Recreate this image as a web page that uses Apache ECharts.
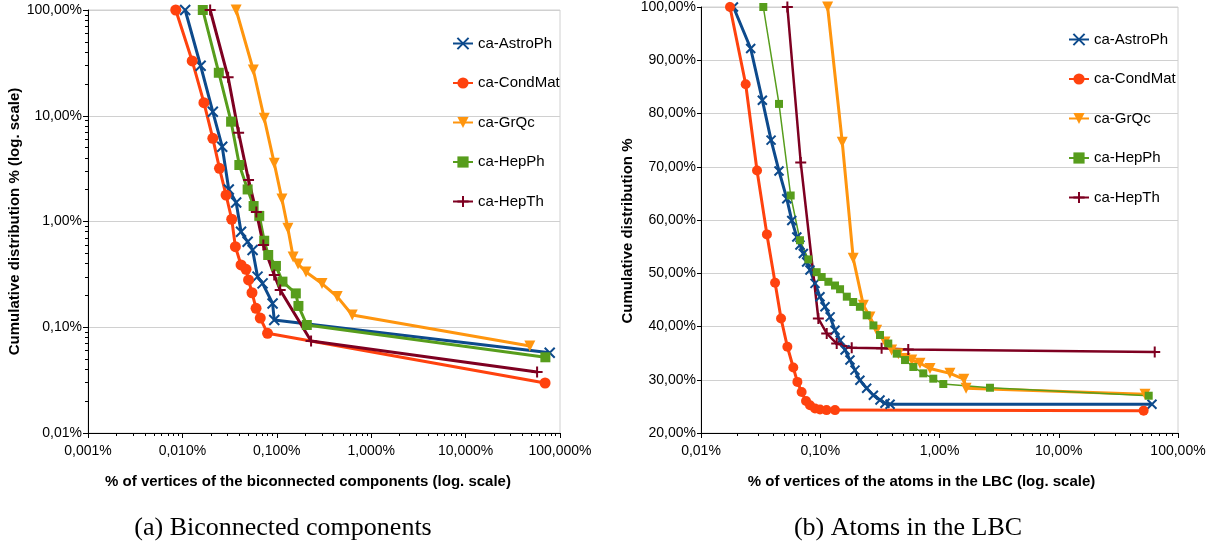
<!DOCTYPE html>
<html>
<head>
<meta charset="utf-8">
<script src="https://cdn.jsdelivr.net/npm/echarts@6/dist/echarts.min.js"></script>
<style>html,body{margin:0;padding:0;background:#fff}#c{width:1215px;height:554px}</style>
</head>
<body>
<div id="c"></div>
<script>
// ---------- names / colours ----------
const seriesNames = ['ca-AstroPh', 'ca-CondMat', 'ca-GrQc', 'ca-HepPh', 'ca-HepTh'];
const seriesColors = ['#0d4a8c', '#ff420e', '#ff950e', '#579d1c', '#7e0021'];

// ---------- (a) Biconnected components: [% of vertices, cumulative %] ----------
const bcAstroPh = [[0.0107,100],[0.0156,29.7],[0.0210,10.9],[0.0264,5.1],[0.0310,2.01],[0.0371,1.51],[0.0418,0.80],[0.0491,0.644],[0.0554,0.537],[0.0625,0.301],[0.0707,0.260],[0.0902,0.168],[0.094,0.117],[77.8,0.0574]];
const bcCondMat = [[0.0085,100],[0.0127,33],[0.0169,13.3],[0.0210,6.12],[0.0247,3.18],[0.0290,1.78],[0.0333,1.05],[0.0364,0.578],[0.0418,0.388],[0.0472,0.353],[0.0502,0.280],[0.0546,0.212],[0.0603,0.151],[0.0668,0.122],[0.0798,0.0877],[69.5,0.0297]];
const bcGrQc = [[0.0371,100],[0.0564,27.1],[0.0736,9.46],[0.094,3.55],[0.1133,1.63],[0.131,0.863],[0.149,0.462],[0.168,0.396],[0.204,0.333],[0.301,0.259],[0.436,0.195],[0.630,0.1305],[47.9,0.0665]];
const bcHepPh = [[0.01644,100],[0.0243,25.5],[0.0328,8.79],[0.0401,3.42],[0.0491,2.01],[0.0568,1.40],[0.0652,1.13],[0.0736,0.658],[0.0811,0.482],[0.0979,0.380],[0.1148,0.270],[0.159,0.209],[0.1695,0.159],[0.208,0.105],[70,0.052]];
const bcHepTh = [[0.01968,100],[0.0305,23.1],[0.0394,6.91],[0.0502,2.47],[0.0607,1.23],[0.0720,0.600],[0.094,0.312],[0.1086,0.225],[0.2307,0.0741],[57.2,0.0378]];

// ---------- (b) Atoms in the LBC: [% of vertices, cumulative %] ----------
const lbcAstroPh = [[0.0187,100],[0.0261,92.2],[0.0327,82.5],[0.0387,75.0],[0.0451,69.2],[0.0524,64.0],[0.0577,59.9],[0.0636,56.8],[0.0676,55.3],[0.0721,53.7],[0.0769,52.1],[0.0820,50.6],[0.0904,48.1],[0.0995,45.6],[0.1096,43.7],[0.121,41.8],[0.133,39.3],[0.1466,37.4],[0.1615,35.6],[0.1775,33.7],[0.1955,31.8],[0.215,29.9],[0.245,28.4],[0.279,27.1],[0.317,26.2],[0.349,25.6],[0.385,25.4],[60.5,25.4]];
const lbcCondMat = [[0.0175,100],[0.0237,85.5],[0.0295,69.3],[0.0357,57.3],[0.0418,48.2],[0.0469,41.5],[0.0530,36.2],[0.0594,32.3],[0.0643,29.6],[0.0698,27.7],[0.0760,26.0],[0.0820,25.2],[0.0904,24.6],[0.0995,24.4],[0.113,24.3],[0.133,24.3],[51.5,24.2]];
const lbcGrQc = [[0.1153,100],[0.153,74.6],[0.189,52.8],[0.230,44.0],[0.261,41.8],[0.297,39.3],[0.349,37.1],[0.397,35.6],[0.452,34.9],[0.514,34.0],[0.585,33.7],[0.686,33.1],[0.832,32.1],[1.224,31.2],[1.60,30.1],[1.67,28.4],[52.9,27.3]];
const lbcHepPh = [[0.0333,100],[0.0451,81.8],[0.0565,64.6],[0.0676,56.2],[0.0795,52.6],[0.0933,50.2],[0.1028,49.3],[0.117,48.4],[0.133,47.7],[0.1466,47.0],[0.167,45.6],[0.189,44.6],[0.215,43.7],[0.245,42.1],[0.279,40.2],[0.317,38.4],[0.372,36.8],[0.438,34.9],[0.514,33.7],[0.603,32.4],[0.731,31.2],[0.887,30.2],[1.076,29.2],[2.65,28.5],[56.8,27.0]];
const lbcHepTh = [[0.0530,100],[0.0686,70.8],[0.0964,41.5],[0.1133,38.7],[0.1374,36.8],[0.1836,36.0],[0.327,35.9],[0.547,35.7],[63.8,35.2]];

// ---------- ticks ----------
const bcXTicks = [0.001, 0.01, 0.1, 1, 10, 100];
const bcYTicks = [0.01, 0.1, 1, 10, 100];
const lbcXTicks = [0.01, 0.1, 1, 10, 100];
const lbcYTicks = [20, 30, 40, 50, 60, 70, 80, 90, 100];

const texts = {
  bcX: '% of vertices of the biconnected components (log. scale)',
  bcY: 'Cumulative distribution % (log. scale)',
  lbcX: '% of vertices of the atoms in the LBC (log. scale)',
  lbcY: 'Cumulative distribution %',
  capA: '(a) Biconnected components',
  capB: '(b) Atoms in the LBC'
};

// ---------- helpers ----------
const FONT = '"Liberation Sans", Arial, sans-serif';
function fmt(v, d) { return Number(v).toFixed(d).replace('.', ',') + '%'; }
function minorsOf(majors) {
  const out = [];
  for (let i = 0; i < majors.length - 1; i++) for (let k = 2; k <= 9; k++) out.push(+(majors[i] * k).toPrecision(6));
  return out;
}
const SYM_X = 'path://M0,0L10,10M0,10L10,0';
const SYM_PLUS = 'path://M5,0L5,10M0,5L10,5';
const symbols = [
  { symbol: SYM_X, rotate: 0, stroke: 2 },
  { symbol: 'circle', rotate: 0, stroke: 0 },
  { symbol: 'triangle', rotate: 180, stroke: 0 },
  { symbol: 'rect', rotate: 0, stroke: 0 },
  { symbol: SYM_PLUS, rotate: 0, stroke: 2 }
];

function mkSeries(data, idx, axisIdx, width, size) {
  const s = symbols[idx];
  return {
    type: 'line', name: seriesNames[idx], data: data,
    xAxisIndex: axisIdx, yAxisIndex: axisIdx,
    symbol: s.symbol, symbolRotate: s.rotate, symbolSize: size,
    showAllSymbol: true, animation: false,
    lineStyle: { color: seriesColors[idx], width: width },
    itemStyle: { color: seriesColors[idx], borderColor: seriesColors[idx], borderWidth: s.stroke }
  };
}

const bcData = [bcAstroPh, bcCondMat, bcGrQc, bcHepPh, bcHepTh];
const lbcData = [lbcAstroPh, lbcCondMat, lbcGrQc, lbcHepPh, lbcHepTh];
const bcWidths = [3, 3, 3, 3, 3];
const bcSizes = [10, 11, 11, 10, 11];
const lbcWidths = [3, 3, 3, 1.5, 2.5];
const lbcSizes = [9, 10, 11, 8, 11];

const series = [];
bcData.forEach((d, i) => series.push(mkSeries(d, i, 0, bcWidths[i], bcSizes[i])));
lbcData.forEach((d, i) => series.push(mkSeries(d, i, 2, lbcWidths[i], lbcSizes[i])));

const axisLabelStyle = { color: '#000', fontSize: 14, fontFamily: FONT };
const nameStyle = { color: '#000', fontSize: 15, fontWeight: 'bold', fontFamily: FONT };

function logAxis(grid, min, max, majors, dec, extra) {
  return Object.assign({
    gridIndex: grid, type: 'log', logBase: 10, min: min, max: max,
    axisLine: { show: true, onZero: false, lineStyle: { color: '#000', width: 1 } },
    axisTick: { show: true, inside: false, length: 5, customValues: majors, lineStyle: { color: '#000' } },
    axisLabel: { show: true, customValues: majors, formatter: v => fmt(v, dec), ...axisLabelStyle },
    minorTick: { show: false }, splitLine: { show: false }
  }, extra);
}
function minorAxis(grid, min, max, majors, position) {
  return {
    gridIndex: grid, type: 'log', logBase: 10, min: min, max: max, position: position,
    axisLine: { show: false },
    axisTick: { show: true, inside: false, length: 3, customValues: minorsOf(majors), lineStyle: { color: '#000' } },
    axisLabel: { show: false }, splitLine: { show: false }, minorTick: { show: false }
  };
}

const legendCommon = {
  orient: 'vertical', itemWidth: 20, itemHeight: 14, itemGap: 24.5,
  textStyle: { color: '#000', fontSize: 15, fontFamily: FONT }, data: seriesNames, selectedMode: false
};

const option = {
  backgroundColor: '#fff',
  animation: false,
  grid: [
    { left: 88, top: 10, width: 472, height: 423, show: true, borderColor: '#d0d0d0', borderWidth: 1, backgroundColor: 'transparent' },
    { left: 701, top: 6, width: 477, height: 427, show: true, borderColor: '#d0d0d0', borderWidth: 1, backgroundColor: 'transparent' }
  ],
  xAxis: [
    logAxis(0, 0.001, 100, bcXTicks, 3, { position: 'bottom', axisLabel: { customValues: bcXTicks, formatter: v => fmt(v, 3), margin: 11, ...axisLabelStyle },
      name: texts.bcX, nameLocation: 'middle', nameGap: 41, nameTextStyle: Object.assign({ padding: [0, 32, 0, 0] }, nameStyle) }),
    minorAxis(0, 0.001, 100, bcXTicks, 'bottom'),
    logAxis(1, 0.01, 100, lbcXTicks, 2, { position: 'bottom', axisLabel: { customValues: lbcXTicks, formatter: v => fmt(v, 2), margin: 11, ...axisLabelStyle },
      name: texts.lbcX, nameLocation: 'middle', nameGap: 41, nameTextStyle: Object.assign({ padding: [0, 36, 0, 0] }, nameStyle) }),
    minorAxis(1, 0.01, 100, lbcXTicks, 'bottom')
  ],
  yAxis: [
    logAxis(0, 0.01, 100, bcYTicks, 2, { position: 'left',
      axisLabel: { customValues: bcYTicks, formatter: v => fmt(v, 2), margin: 6, ...axisLabelStyle },
      splitLine: { show: true, lineStyle: { color: '#d0d0d0', width: 1 } },
      name: texts.bcY, nameLocation: 'middle', nameGap: 66, nameRotate: 90, nameTextStyle: nameStyle }),
    minorAxis(0, 0.01, 100, bcYTicks, 'left'),
    {
      gridIndex: 1, type: 'value', min: 20, max: 100, interval: 10, position: 'left',
      axisLine: { show: true, onZero: false, lineStyle: { color: '#000', width: 1 } },
      axisTick: { show: true, inside: false, length: 4, lineStyle: { color: '#000' } },
      axisLabel: { formatter: v => fmt(v, 2), margin: 5, ...axisLabelStyle },
      splitLine: { show: true, lineStyle: { color: '#d0d0d0', width: 1 } },
      name: texts.lbcY, nameLocation: 'middle', nameGap: 66, nameRotate: 90,
      nameTextStyle: Object.assign({ padding: [0, 22, 0, 0] }, nameStyle)
    },
    Object.assign(minorAxis(1, 0.01, 100, [], 'left'), { show: false })
  ],
  legend: [
    Object.assign({ left: 447, top: 31 }, legendCommon),
    Object.assign({ left: 1063, top: 27 }, legendCommon)
  ],
  graphic: [
    { type: 'text', x: 283, y: 528, style: { text: texts.capA, fill: '#000', font: '26px "Liberation Serif", "Times New Roman", serif', textAlign: 'center', textVerticalAlign: 'middle' } },
    { type: 'text', x: 908, y: 528, style: { text: texts.capB, fill: '#000', font: '26px "Liberation Serif", "Times New Roman", serif', textAlign: 'center', textVerticalAlign: 'middle' } }
  ],
  series: series
};

option.series.forEach(s => { if (s.xAxisIndex === 2) { s.yAxisIndex = 2; } });

const chart = echarts.init(document.getElementById('c'), null, { renderer: 'canvas' });
chart.setOption(option);
</script>
</body>
</html>
